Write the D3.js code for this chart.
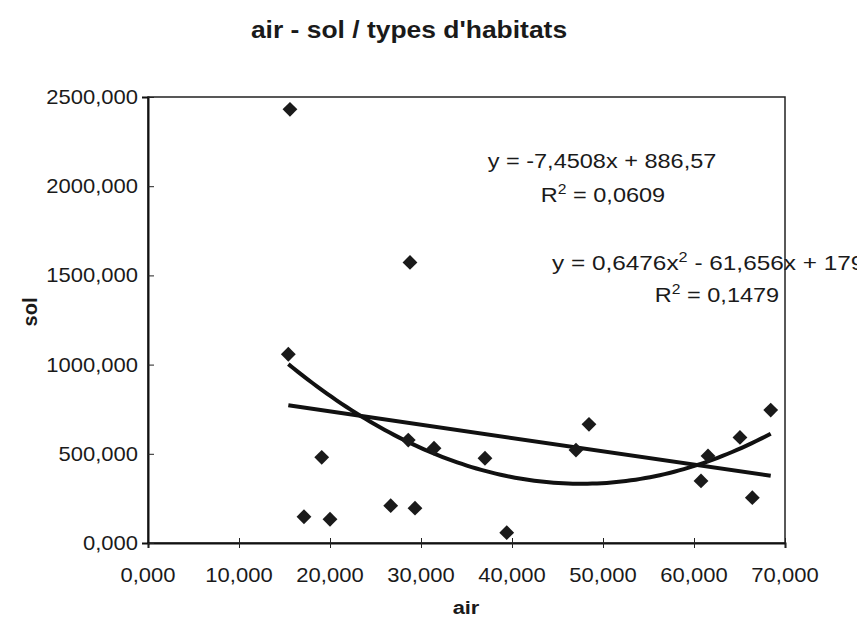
<!DOCTYPE html>
<html>
<head>
<meta charset="utf-8">
<script src="https://cdn.jsdelivr.net/npm/d3@7"></script>
<style>
body { margin: 0; background: #fff; }
text { font-family: "Liberation Sans", Arial, sans-serif; fill: #1a1a1a; }
</style>
</head>
<body>
<svg id="chart" width="857" height="620"></svg>
<script>
// values (air in x, sol in y)
var airVals = [15.60, 15.42, 28.79, 17.14, 19.09, 20.00, 26.67, 29.34, 28.60, 31.43,
               37.03, 39.42, 47.03, 48.46, 60.77, 61.54, 65.05, 66.41, 68.43]
var solVals = [2431, 1058, 1573, 147, 480, 133, 209, 195, 577, 531,
               475, 58, 521, 665, 348, 488, 592, 254, 745]
var xTicks = [0, 10, 20, 30, 40, 50, 60, 70]
var yTicks = [0, 500, 1000, 1500, 2000, 2500]
// trend lines as printed on the chart
var linCoef = [886.57, -7.4508]
var quadCoef = [1799.4, -61.656, 0.6476]
var linLabel = ["y = -7,4508x + 886,57", "0,0609"]
var quadLabel = ["y = 0,6476x", " - 61,656x + 1799,4", "0,1479"]

var width = 857, height = 620
var margin = {top: 97, right: 72, bottom: 77, left: 148}
var svg = d3.select("#chart")
var fr = d3.formatLocale({decimal: ",", thousands: " ", grouping: [3], currency: ["", " €"]})
var fmt = fr.format(".3f")

var x = d3.scaleLinear().domain([0, 70]).range([margin.left, width - margin.right])
var y = d3.scaleLinear().domain([0, 2500]).range([height - margin.bottom, margin.top])

// text in the picture is a bit wide, so stretch it a little
function wideText(g, px, py, str, size, anchor, weight, sx) {
    return g.append("text").attr("transform", "translate(" + px + "," + py + ") scale(" + (sx || 1.1) + ",1)")
        .attr("text-anchor", anchor).attr("font-size", size).attr("font-weight", weight || "normal").text(str)
}

// title
wideText(svg, 409, 38, "air - sol / types d'habitats", 23, "middle", "bold", 1.15)

// plot frame
svg.append("rect").attr("x", x(0)).attr("y", y(2500)).attr("width", x(70) - x(0)).attr("height", y(0) - y(2500))
    .attr("fill", "none").attr("stroke", "#222").attr("stroke-width", 1.5)

// axes
var xAxis = svg.append("g").attr("transform", "translate(0," + y(0) + ")")
    .call(d3.axisBottom(x).tickValues(xTicks).tickSize(5).tickFormat(""))
xAxis.select(".domain").attr("stroke", "#111").attr("stroke-width", 2)
xAxis.selectAll(".tick line").attr("y1", -5).attr("stroke", "#222").attr("stroke-width", 1)
xTicks.forEach(function (t) { wideText(svg, x(t), y(0) + 39, fmt(t), 20, "middle") })

var yAxis = svg.append("g").attr("transform", "translate(" + x(0) + ",0)")
    .call(d3.axisLeft(y).tickValues(yTicks).tickSize(6).tickFormat(""))
yAxis.select(".domain").attr("stroke", "#111").attr("stroke-width", 2)
yAxis.selectAll(".tick line").attr("x2", 6).attr("stroke", "#222").attr("stroke-width", 1)
yTicks.forEach(function (t) { wideText(svg, x(0) - 10, y(t) + 7, fmt(t), 20, "end") })

// axis titles
wideText(svg, 466, 614, "air", 19, "middle", "bold", 1.15)
svg.append("text").attr("transform", "translate(37,312) rotate(-90)")
    .attr("text-anchor", "middle").attr("font-size", 20).attr("font-weight", "bold").text("sol")

// trend lines over the data range
var xmin = d3.min(airVals), xmax = d3.max(airVals)
var steps = d3.range(0, 101).map(function (i) { return xmin + (xmax - xmin) * i / 100 })
var line = d3.line().x(function (d) { return x(d[0]) }).y(function (d) { return y(d[1]) })
svg.append("path").datum([xmin, xmax].map(function (v) { return [v, linCoef[0] + linCoef[1] * v] }))
    .attr("d", line).attr("fill", "none").attr("stroke", "#111").attr("stroke-width", 4)
svg.append("path").datum(steps.map(function (v) { return [v, quadCoef[0] + quadCoef[1] * v + quadCoef[2] * v * v] }))
    .attr("d", line).attr("fill", "none").attr("stroke", "#111").attr("stroke-width", 4)

// points
var pts = airVals.map(function (a, i) { return [a, solVals[i]] })
svg.selectAll(".pt").data(pts).join("path").attr("class", "pt")
    .attr("transform", function (d) { return "translate(" + x(d[0]) + "," + y(d[1]) + ")" })
    .attr("d", d3.symbol().type(d3.symbolDiamond2).size(140)).attr("fill", "#1a1a1a")

// equation labels
wideText(svg, 602, 168, linLabel[0], 21, "middle", "normal", 1.12)
var r1 = wideText(svg, 603, 202, "R", 21, "middle", "normal", 1.12)
r1.append("tspan").attr("font-size", 14).attr("dy", -8).text("2")
r1.append("tspan").attr("dy", 8).text(" = " + linLabel[1])

var q1 = wideText(svg, 552, 270, quadLabel[0], 21, "start", "normal", 1.16)
q1.append("tspan").attr("font-size", 14).attr("dy", -8).text("2")
q1.append("tspan").attr("dy", 8).text(quadLabel[1])
var r2 = wideText(svg, 717, 302, "R", 21, "middle", "normal", 1.12)
r2.append("tspan").attr("font-size", 14).attr("dy", -8).text("2")
r2.append("tspan").attr("dy", 8).text(" = " + quadLabel[2])
</script>
</body>
</html>
